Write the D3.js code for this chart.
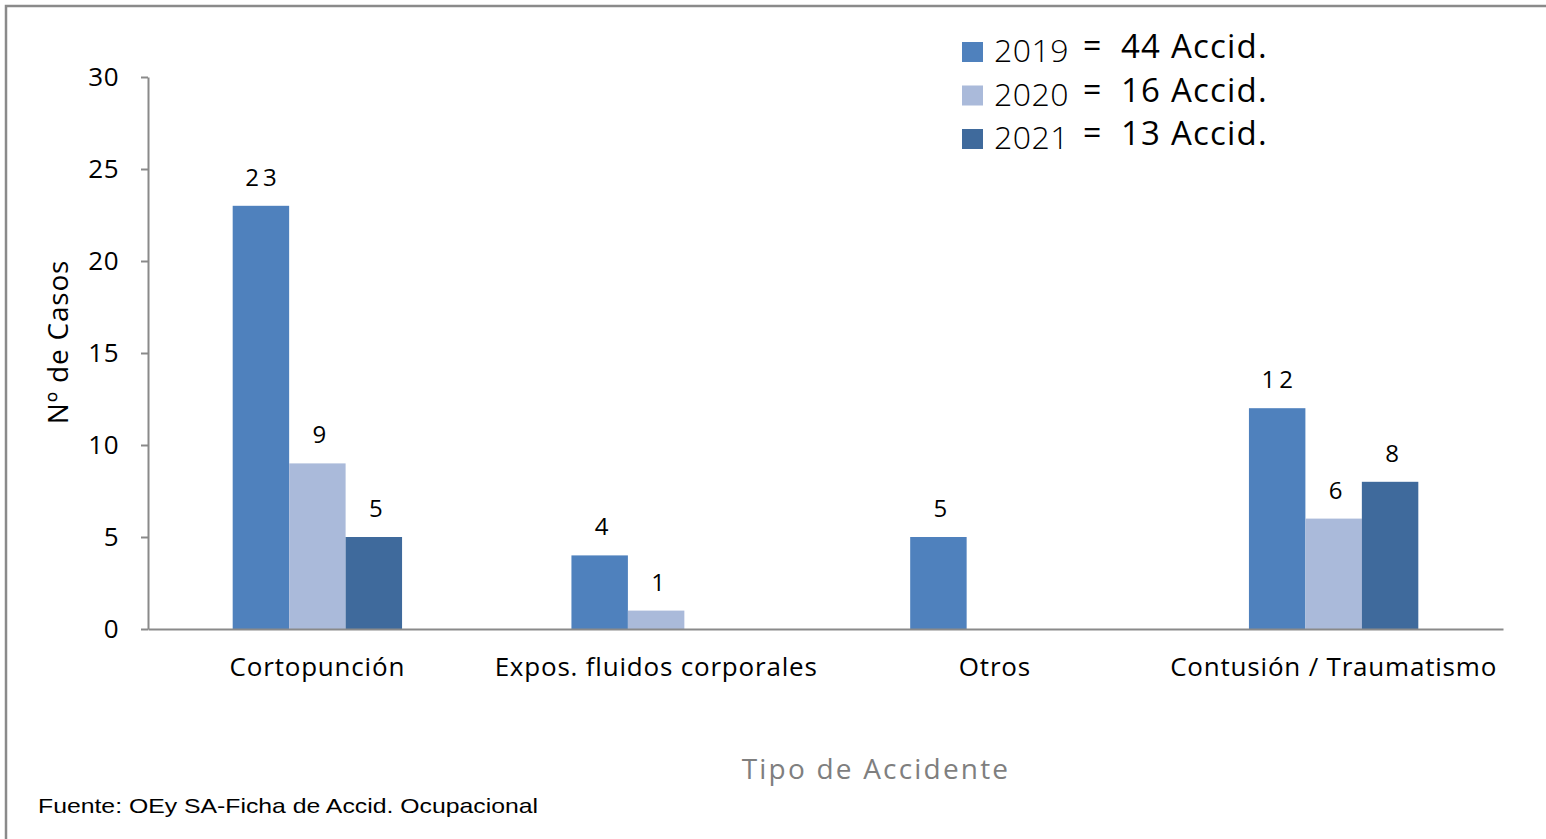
<!DOCTYPE html>
<html>
<head>
<meta charset="utf-8">
<script src="https://cdn.jsdelivr.net/npm/d3@7"></script>
<style>
  html, body { margin: 0; padding: 0; background: #fff; }
  svg { display: block; }
</style>
</head>
<body>
<svg id="chart" width="1546" height="839"></svg>
<script>
// Accident types and yearly counts
const categories = ["Cortopunción", "Expos. fluidos corporales", "Otros", "Contusión / Traumatismo"];
const years = ["2019", "2020", "2021"];
const values2019 = [23, 4, 5, 12];
const values2020 = [9, 1, null, 6];
const values2021 = [5, null, null, 8];
const totals = [44, 16, 13];
const yTicks = [0, 5, 10, 15, 20, 25, 30];
const colors = ["#4F81BD", "#AABADA", "#3F6A9C"];

const series = [values2019, values2020, values2021];

const svg = d3.select("#chart");
const font = "'Open Sans', 'Noto Sans', sans-serif";

// Outer frame
svg.append("path")
  .attr("d", "M6,839 V6 H1546")
  .attr("fill", "none")
  .attr("stroke", "#8a8a8a")
  .attr("stroke-width", 2.5);

const plotLeft = 148, plotRight = 1503, plotTop = 77, plotBottom = 629;

const y = d3.scaleLinear().domain([0, 30]).range([plotBottom, plotTop]);
const x0 = d3.scaleBand().domain(categories).range([plotLeft, plotRight]).paddingInner(0.5).paddingOuter(0.25);
const x1 = d3.scaleBand().domain(years).range([0, x0.bandwidth()]);

// Y axis
const yAxis = svg.append("g")
  .attr("transform", `translate(${plotLeft},0)`)
  .call(d3.axisLeft(y).tickValues(yTicks).tickSize(7).tickSizeOuter(0).tickPadding(22));
yAxis.select(".domain").attr("stroke", "#8a8a8a").attr("stroke-width", 2);
yAxis.selectAll(".tick line").attr("stroke", "#8a8a8a").attr("stroke-width", 2);
yAxis.selectAll(".tick text")
  .attr("font-family", font).attr("font-size", 26).attr("letter-spacing", 0.5).attr("fill", "#000");

// Bars
categories.forEach((cat, i) => {
  years.forEach((yr, s) => {
    const v = series[s][i];
    if (v == null) return;
    const bx = x0(cat) + x1(yr);
    svg.append("rect")
      .attr("x", bx)
      .attr("y", y(v))
      .attr("width", x1.bandwidth())
      .attr("height", y(0) - y(v))
      .attr("fill", colors[s]);
    svg.append("text")
      .attr("x", bx + x1.bandwidth() / 2 + 2)
      .attr("y", y(v) - 20)
      .attr("text-anchor", "middle")
      .attr("font-family", font)
      .attr("font-size", 24)
      .attr("letter-spacing", v >= 10 ? 4 : 0)
      .attr("fill", "#000")
      .text(v);
  });
});

// X axis
const xAxis = svg.append("g")
  .attr("transform", `translate(0,${plotBottom})`)
  .call(d3.axisBottom(x0).tickSize(0).tickSizeOuter(0).tickPadding(29));
xAxis.select(".domain").attr("stroke", "#8a8a8a").attr("stroke-width", 2);
xAxis.selectAll(".tick text")
  .attr("font-family", font).attr("font-size", 26).attr("letter-spacing", 0.8).attr("fill", "#000");

// Axis titles
svg.append("text")
  .attr("transform", "translate(68,342) rotate(-90)")
  .attr("text-anchor", "middle")
  .attr("font-family", font).attr("font-size", 28).attr("letter-spacing", 0.8).attr("fill", "#000")
  .text("Nº de Casos");

svg.append("text")
  .attr("x", 876).attr("y", 779)
  .attr("text-anchor", "middle")
  .attr("font-family", font).attr("font-size", 28).attr("fill", "#7f7f7f")
  .attr("letter-spacing", 2.2)
  .text("Tipo  de Accidente");

// Source note
svg.append("text")
  .attr("x", 38).attr("y", 813)
  .attr("font-family", "'Liberation Sans', Arial, sans-serif").attr("font-size", 21).attr("fill", "#000")
  .attr("textLength", 500).attr("lengthAdjust", "spacingAndGlyphs")
  .text("Fuente: OEy SA-Ficha de Accid. Ocupacional");

// Legend with yearly totals
const legend = svg.append("g");
years.forEach((yr, s) => {
  const ly = 52 + s * 43.5;
  legend.append("rect")
    .attr("x", 962).attr("y", ly - 10)
    .attr("width", 21).attr("height", 20)
    .attr("fill", colors[s]);
  legend.append("text")
    .attr("x", 994).attr("y", ly + 10)
    .attr("font-family", font).attr("font-size", 32).attr("font-weight", 300).attr("fill", "#000")
    .attr("letter-spacing", 0.5)
    .text(yr);
  legend.append("text")
    .attr("x", 1083).attr("y", ly + 5)
    .attr("font-family", font).attr("font-size", 32).attr("fill", "#000")
    .text("=");
  legend.append("text")
    .attr("x", 1121).attr("y", ly + 6)
    .attr("font-family", font).attr("font-size", 33).attr("fill", "#000")
    .attr("letter-spacing", 1.2)
    .text(`${totals[s]} Accid.`);
});
</script>
</body>
</html>
